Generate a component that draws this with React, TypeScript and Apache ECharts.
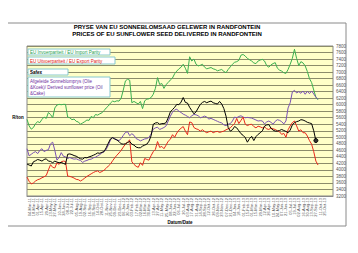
import React, { useEffect, useRef } from 'react';
import * as echarts from 'echarts';

const dateLabels = [
  '04-Mar-11', '18-Mar-11', '01-Apr-11', '15-Apr-11', '29-Apr-11', '13-May-11', '27-May-11', '10-Jun-11', '24-Jun-11', '08-Jul-11',
  '22-Jul-11', '05-Aug-11', '19-Aug-11', '02-Sep-11', '16-Sep-11', '30-Sep-11', '14-Oct-11', '28-Oct-11', '11-Nov-11', '25-Nov-11',
  '09-Dec-11', '23-Dec-11', '06-Jan-12', '20-Jan-12', '03-Feb-12', '17-Feb-12', '02-Mar-12', '16-Mar-12', '30-Mar-12', '13-Apr-12',
  '27-Apr-12', '11-May-12', '25-May-12', '08-Jun-12', '22-Jun-12', '06-Jul-12', '20-Jul-12', '03-Aug-12', '17-Aug-12', '31-Aug-12',
  '14-Sep-12', '28-Sep-12', '12-Oct-12', '26-Oct-12', '09-Nov-12', '23-Nov-12', '07-Dec-12', '21-Dec-12', '04-Jan-13', '18-Jan-13',
  '01-Feb-13', '15-Feb-13', '01-Mar-13', '15-Mar-13', '29-Mar-13', '12-Apr-13', '26-Apr-13', '10-May-13', '24-May-13', '07-Jun-13',
  '21-Jun-13', '05-Jul-13', '19-Jul-13', '02-Aug-13', '16-Aug-13', '30-Aug-13', '13-Sep-13', '27-Sep-13', '11-Oct-13', '25-Oct-13',
];
const pointCount = 144;

const importParity = [
  5550, 5350, 5250, 5300, 5420, 5480, 5450, 5550, 5620, 5580,
  5760, 5700, 5600, 5900, 5990, 6010, 6000, 6010, 6010, 5620,
  5600, 5540, 5560, 5490, 5470, 5400, 5440, 5480, 5530, 5520,
  5640, 5600, 5700, 5680, 5720, 5750, 5820, 5900, 5960, 6050,
  6110, 6090, 6120, 6110, 6200, 6450, 6730, 6780, 6750, 6060,
  6100, 6060, 6020, 6100, 5880, 6120, 6170, 6180, 6220, 6320,
  6500, 6830, 6620, 6650, 6500, 6620, 6680, 6760, 6820, 6950,
  7030, 7100, 7150, 7240, 7120, 6960, 7470, 7340, 7400, 7240,
  7190, 7210, 7240, 7150, 7100, 7120, 7140, 7100, 7080, 7040,
  7060, 7080, 7020, 6980, 7080, 7160, 7240, 7300, 7320, 7360,
  7520, 7540, 7490, 7420, 7380, 7340, 7280, 7260, 7340, 7370,
  7390, 7340, 7200, 7150, 7220, 7260, 7290, 7120, 7060, 7030,
  6980, 6960, 7080, 7240, 7420, 7700, 7420, 7200, 7320, 7280,
  7190, 7020, 6800, 6680, 6450, 6230, 6150,
];

const exportParity = [
  3780, 3650, 3570, 3600, 3660, 3700, 3720, 3760, 3790, 3830,
  4000, 4160, 4080, 4060, 4220, 4170, 4250, 4270, 4260, 3810,
  3800, 3780, 3750, 3710, 3700, 3660, 3700, 3750, 3800, 3840,
  3880, 3920, 3950, 3970, 3920, 3950, 3990, 4050, 4120, 4180,
  4280, 4370, 4450, 4520, 4600, 4700, 4790, 4860, 4920, 4250,
  4170, 4110, 4080, 4220, 4140, 4350, 4320, 4300, 4440, 4560,
  4630, 4870, 4690, 4720, 4650, 4760, 4880, 4940, 5080, 5000,
  5130, 5220, 5280, 5330, 5190, 5080, 5470, 5450, 5300, 5260,
  5240, 5190, 5230, 5180, 5140, 5170, 5190, 5140, 5170, 5180,
  5150, 5170, 5190, 5230, 5260, 5290, 5360, 5420, 5580, 5420,
  5520, 5620, 5400, 5360, 5390, 5400, 5330, 5290, 5340, 5320,
  5290, 5320, 5260, 5240, 5280, 5260, 5240, 5200, 5170, 5090,
  5120, 5000, 5230, 5350, 5450, 5500, 5350, 5190, 5230, 5140,
  5140, 5040, 4900, 4790, 4560, 4270, 4150,
];

const safex = [
  4180, 4150, 4120, 4250, 4280, 4320, 4300, 4270, 4320, 4340,
  4270, 4260, 4220, 4270, 4240, 4220, 4230, 4200, 4170, 4480,
  4490, 4470, 4440, 4420, 4380, 4340, 4330, 4380, 4370, 4400,
  4420, 4450, 4480, 4520, 4510, 4540, 4560, 4680, 4820, 4950,
  4990, 4950, 4920, 4870, 4800, 4790, 4800, 4840, 4870, 4790,
  4760, 4700, 4680, 4680, 4730, 4760, 4790, 4880, 5050, 5400,
  5440, 5450, 5400, 5420, 5420, 5450, 5600, 5780, 5850, 5920,
  6010, 6000, 6080, 6220, 6070, 6050, 5920, 5820, 5720, 5780,
  5900, 6010, 6070, 6100, 6060, 6090, 6110, 6060, 6040, 6020,
  6100, 6020, 5880, 5650, 5300, 5190, 5230, 5330, 5290, 5200,
  5110, 5060, 4990, 4850, 4960, 5030, 4900, 5020, 5090, 5140,
  5200, 5340, 5380, 5390, 5280, 5220, 5190, 5190, 5210, 5240,
  5210, 5180, 5140, 5220, 5380, 5450, 5480, 5500, 5540, 5530,
  5500, 5460, 5440, 5420, 5200, 4900,
];

const derivedPrice = [
  4650, 4430, 4480, 4530, 4560, 4500, 4600, 4650, 4560, 4600,
  4620, 4800, 4850, 4600, 4300, 4380, 4530, 4420, 4400, 4350,
  4380, 4350, 4330, 4340, 4310, 4290, 4230, 4270, 4290, 4320,
  4330, 4370, 4390, 4430, 4470, 4520, 4560, 4630, 4760, 4920,
  4990, 4950, 4920, 4900, 4960, 5060, 5150, 5170, 5050, 5110,
  5060, 4960, 4930, 4890, 4920, 4950, 4960, 5000, 5100, 5250,
  5290, 5310, 5240, 5270, 5300, 5350, 5500, 5650, 5770, 5840,
  5860, 5800, 5760, 5710, 5680, 5640, 5600, 5660, 5700, 5690,
  5660, 5600, 5620, 5650, 5620, 5560, 5580, 5550, 5520, 5490,
  5460, 5440, 5380, 5360, 5400, 5420, 5500, 5620, 5600, 5640,
  5660, 5620, 5600, 5610, 5600, 5590, 5560, 5530, 5500, 5510,
  5500, 5410, 5470, 5500, 5460, 5400, 5490, 5540, 5520, 5480,
  5410, 5500, 5900, 6060, 6390, 6440, 6360, 6400, 6350, 6420,
  6320, 6410, 6340, 6420, 6330, 6230, 6170,
];

const yMin = 3200;
const yMax = 7800;
const yStep = 200;

const legendTexts = [
  'EU Invoerpariteit / EU Import Parity',
  'EU Uitvoerpariteit / EU Export Parity',
  'Safex',
  'Afgeleide Sonneblomprys (Olie\n&Koek)/ Derived sunflower price (Oil\n&Cake)',
];
const titleLines = [
  'PRYSE VAN EU SONNEBLOMSAAD GELEWER IN RANDFONTEIN',
  'PRICES OF EU SUNFLOWER SEED DELIVERED IN RANDFONTEIN',
];

const GREEN = '#3cb050';
const RED = '#e8281c';
const PURPLE = '#7a52b4';
const BLACK = '#000000';
const FONT = 'Liberation Sans, Arial, sans-serif';

export default function App() {
  const ref = useRef<HTMLDivElement>(null);
  useEffect(() => {
    if (!ref.current) return;
    const chart = echarts.init(ref.current, undefined, { renderer: 'svg' });

    const categories: string[] = [];
    for (let i = 0; i < pointCount; i++) {
      const k = (i - 1) / 2;
      categories.push(i % 2 === 1 && k < dateLabels.length ? dateLabels[k] : '');
    }

    const safexData: any[] = safex.map((v, i) =>
      i === safex.length - 1
        ? { value: v, symbol: 'circle', symbolSize: 4, itemStyle: { color: '#333', borderColor: '#000', borderWidth: 1 } }
        : v
    );

    const boxStroke = '#86c9cf';
    const legendBox = (y: number, w: number, h: number) => ({
      type: 'rect',
      shape: { x: 28, y, width: w, height: h },
      style: { fill: '#ffffff', stroke: boxStroke, lineWidth: 1 },
      z: 10,
    });
    const legendText = (y: number, text: string, color: string, bold = false) => ({
      type: 'text',
      x: 30,
      y,
      style: {
        text,
        fill: color,
        fontSize: 4.5,
        fontWeight: bold ? 'bold' : 'normal',
        fontFamily: FONT,
        lineHeight: 6,
      },
      z: 11,
    });

    chart.setOption({
      animation: false,
      backgroundColor: '#ffffff',
      grid: {
        left: 27,
        right: 25,
        top: 46,
        bottom: 57,
        show: true,
        backgroundColor: '#ffffc8',
        borderColor: '#888888',
        borderWidth: 1,
      },
      xAxis: {
        type: 'category',
        data: categories,
        boundaryGap: false,
        axisLine: { show: true, lineStyle: { color: '#888888' } },
        axisTick: { show: false },
        splitLine: { show: false },
        axisLabel: {
          interval: 0,
          rotate: 90,
          fontSize: 4,
          color: '#555555',
          fontFamily: FONT,
          margin: 2,
        },
      },
      yAxis: {
        type: 'value',
        position: 'right',
        min: yMin,
        max: yMax,
        interval: yStep,
        axisLine: { show: false },
        axisTick: { show: false },
        axisLabel: {
          fontSize: 4.5,
          color: '#555555',
          fontFamily: FONT,
          margin: 3,
          formatter: (v: number) => String(v),
        },
        splitLine: { show: true, lineStyle: { color: '#8c8c6a', width: 1 } },
      },
      series: [
        { type: 'line', name: 'Import', data: importParity, showSymbol: false, lineStyle: { color: GREEN, width: 1 }, itemStyle: { color: GREEN }, z: 3 },
        { type: 'line', name: 'Derived', data: derivedPrice, showSymbol: false, lineStyle: { color: PURPLE, width: 1 }, itemStyle: { color: PURPLE }, z: 3 },
        { type: 'line', name: 'Safex', data: safexData, symbol: 'none', showSymbol: true, lineStyle: { color: BLACK, width: 1 }, itemStyle: { color: BLACK }, z: 4 },
        { type: 'line', name: 'Export', data: exportParity, showSymbol: false, lineStyle: { color: RED, width: 1 }, itemStyle: { color: RED }, z: 3 },
      ],
      graphic: [
        { type: 'line', shape: { x1: 8, y1: 23, x2: 346, y2: 23 }, style: { stroke: '#8a8a8a', lineWidth: 1 } },
        { type: 'line', shape: { x1: 346, y1: 23, x2: 346, y2: 226 }, style: { stroke: '#8a8a8a', lineWidth: 1 } },
        { type: 'line', shape: { x1: 8, y1: 226, x2: 346, y2: 226 }, style: { stroke: '#8a8a8a', lineWidth: 1 } },
        {
          type: 'text', x: 167, y: 24,
          style: { text: titleLines[0], fill: '#000', fontSize: 6, fontWeight: 'bold', fontFamily: FONT, textAlign: 'center' },
        },
        {
          type: 'text', x: 167, y: 31,
          style: { text: titleLines[1], fill: '#000', fontSize: 6, fontWeight: 'bold', fontFamily: FONT, textAlign: 'center' },
        },
        {
          type: 'text', x: 18, y: 115,
          style: { text: 'R/ton', fill: '#000', fontSize: 4.5, fontWeight: 'bold', fontFamily: FONT, textAlign: 'center' },
        },
        {
          type: 'text', x: 180, y: 220,
          style: { text: 'Datum/Date', fill: '#000', fontSize: 4.5, fontWeight: 'bold', fontFamily: FONT, textAlign: 'center' },
        },
        legendBox(49, 82, 6),
        legendText(49.5, legendTexts[0], '#1aa050'),
        legendBox(57, 87, 7),
        legendText(58, legendTexts[1], '#e02010'),
        legendBox(69, 40, 6),
        legendText(69.5, legendTexts[2], '#000000', true),
        legendBox(77, 82, 20),
        legendText(78.5, legendTexts[3], '#7030a0'),
      ],
    });
    return () => chart.dispose();
  }, []);
  return <div ref={ref} style={{ position: 'fixed', left: 0, top: 0, width: 358, height: 253 }} />;
}
